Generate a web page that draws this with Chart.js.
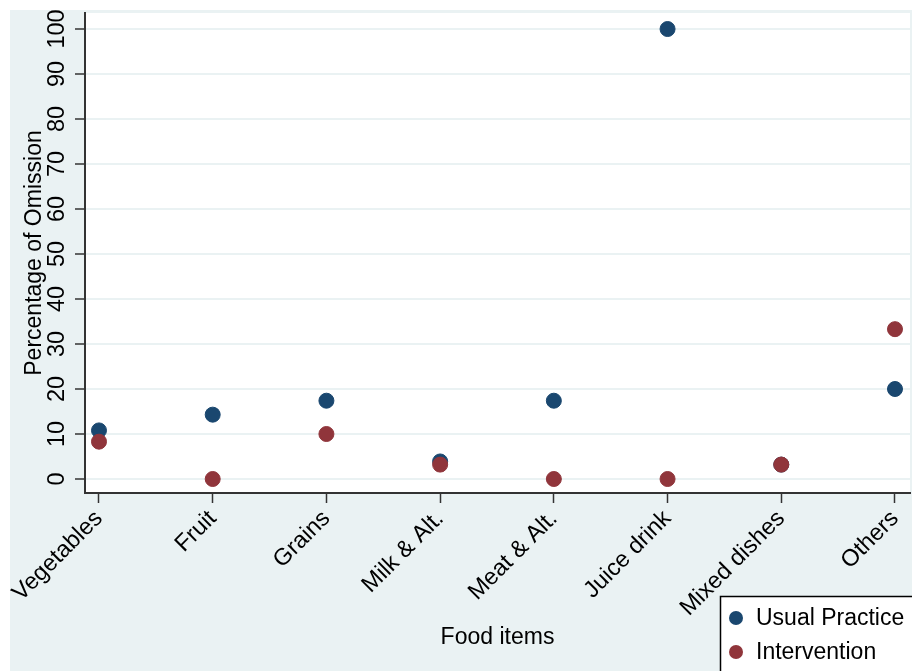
<!DOCTYPE html>
<html>
<head>
<meta charset="utf-8">
<title>Percentage of Omission by food item</title>
<script src="https://cdn.jsdelivr.net/npm/chart.js@4"></script>
<style>
    html, body { margin: 0; padding: 0; background: #ffffff; }
    #chartBox { width: 912px; height: 671px; }
</style>
</head>
<body>
<div id="chartBox"><canvas id="omissionChart" width="912" height="671"></canvas></div>
<script>
// food item categories along the x axis
var categories = ['Vegetables', 'Fruit', 'Grains', 'Milk & Alt.', 'Meat & Alt.', 'Juice drink', 'Mixed dishes', 'Others'];
// percentage of omission
var usualPractice = [10.8, 14.3, 17.4, 3.9, 17.4, 100, 3.2, 20];
var intervention = [8.3, 0, 10, 3.2, 0, 0, 3.2, 33.3];
var yTicks = [0, 10, 20, 30, 40, 50, 60, 70, 80, 90, 100];
var seriesNames = ['Usual Practice', 'Intervention'];

var navy = '#1a476f';
var maroon = '#90353b';
var stataBg = '#eaf2f3';
var fontFamily = '"Liberation Sans", Arial, sans-serif';

function toPoints (values) {
    return values.map(function (v, i) {
        return { x: i, y: v };
    });
}

// paints the outer Stata-like background and white plot region
var backgroundPlugin = {
    id: 'stataBackground',
    beforeDraw: function (chart) {
        var ctx = chart.ctx;
        var area = chart.chartArea;
        ctx.save();
        ctx.fillStyle = '#ffffff';
        ctx.fillRect(0, 0, chart.width, chart.height);
        ctx.fillStyle = stataBg;
        ctx.fillRect(10, 10, chart.width - 10, chart.height - 10);
        ctx.fillStyle = '#ffffff';
        ctx.fillRect(area.left, area.top, area.right - area.left, area.bottom - area.top);
        ctx.restore();
    }
};

// boxed legend in the lower right corner, overlapping the x labels
var legendPlugin = {
    id: 'stataLegend',
    afterDraw: function (chart) {
        var ctx = chart.ctx;
        var sets = chart.data.datasets;
        ctx.save();
        ctx.fillStyle = '#ffffff';
        ctx.fillRect(720, 596, 300, 200);
        ctx.strokeStyle = '#000000';
        ctx.lineWidth = 1.5;
        ctx.strokeRect(720.5, 596.5, 300, 200);
        ctx.font = '23px ' + fontFamily;
        ctx.textBaseline = 'middle';
        ctx.textAlign = 'left';
        for (var i = 0; i < sets.length; i++) {
            var y = 618 + i * 34;
            ctx.beginPath();
            ctx.arc(736, y, 7, 0, Math.PI * 2);
            ctx.fillStyle = sets[i].backgroundColor;
            ctx.fill();
            ctx.fillStyle = '#000000';
            ctx.fillText(sets[i].label, 756, y + 1);
        }
        ctx.restore();
    }
};

var ctx = document.getElementById('omissionChart');

var omissionChart = new Chart(ctx, {
    type: 'scatter',
    data: {
        datasets: [{
            label: seriesNames[0],
            data: toPoints(usualPractice),
            backgroundColor: navy,
            borderColor: navy,
            pointRadius: 7.5,
            order: 2
        }, {
            label: seriesNames[1],
            data: toPoints(intervention),
            backgroundColor: maroon,
            borderColor: maroon,
            pointRadius: 7.5,
            order: 1
        }]
    },
    options: {
        responsive: false,
        animation: false,
        devicePixelRatio: 1,
        layout: {
            autoPadding: false,
            padding: { top: 13, right: 2, left: 0, bottom: 0 }
        },
        plugins: {
            legend: { display: false },
            tooltip: { enabled: false }
        },
        scales: {
            x: {
                type: 'linear',
                min: -0.123,
                max: 7.132,
                afterBuildTicks: function (scale) {
                    scale.ticks = categories.map(function (c, i) { return { value: i }; });
                },
                afterFit: function (scale) {
                    scale.height = 178;
                    scale.paddingLeft = 0;
                    scale.paddingRight = 0;
                },
                ticks: {
                    autoSkip: false,
                    minRotation: 45,
                    maxRotation: 45,
                    padding: 2,
                    color: '#000000',
                    font: { family: fontFamily, size: 23.5 },
                    callback: function (value) {
                        return categories[value];
                    }
                },
                grid: {
                    drawOnChartArea: false,
                    tickLength: 10,
                    tickColor: '#333333',
                    tickWidth: 1.5
                },
                border: { color: '#333333', width: 2 },
                title: {
                    display: true,
                    text: 'Food items',
                    color: '#000000',
                    font: { family: fontFamily, size: 23 },
                    padding: { top: 0, bottom: 20 }
                }
            },
            y: {
                min: -3.11,
                max: 103.56,
                afterBuildTicks: function (scale) {
                    scale.ticks = yTicks.map(function (v) { return { value: v }; });
                },
                afterFit: function (scale) {
                    scale.width = 85;
                },
                ticks: {
                    minRotation: 90,
                    maxRotation: 90,
                    crossAlign: 'center',
                    padding: -2.5,
                    color: '#000000',
                    font: { family: fontFamily, size: 23.5 }
                },
                grid: {
                    color: stataBg,
                    lineWidth: 2,
                    tickLength: 10,
                    tickColor: '#333333',
                    tickWidth: 1.5
                },
                border: { color: '#333333', width: 2 },
                title: {
                    display: true,
                    text: 'Percentage of Omission',
                    color: '#000000',
                    font: { family: fontFamily, size: 23 },
                    padding: { top: 21, bottom: 0 }
                }
            }
        }
    },
    plugins: [backgroundPlugin, legendPlugin]
});
</script>
</body>
</html>
